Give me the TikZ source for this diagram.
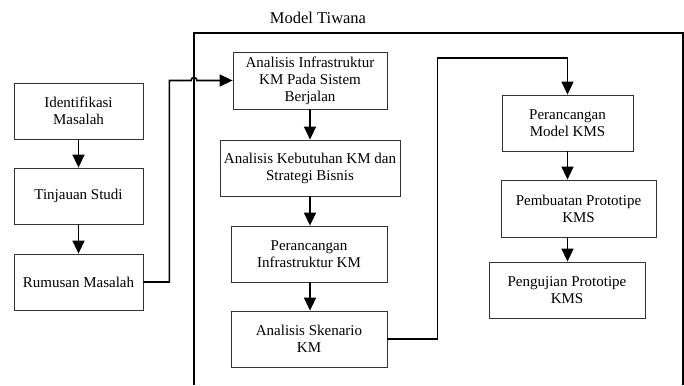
\documentclass[tikz,border=0pt]{standalone}
\usepackage{fontspec}
\setmainfont{Liberation Serif}
\usetikzlibrary{arrows.meta}
\tikzset{
  box/.style={draw=black!80, line width=0.8pt, align=center, inner sep=1pt,
    font=\fontsize{15}{17}\selectfont},
  conn/.style={line width=1.6pt, -{Triangle[width=12pt,length=13pt]}},
}
\begin{document}
\begin{tikzpicture}[x=1pt,y=-1pt]
\useasboundingbox (0,0) rectangle (684,385);
% bingkai model
\node (title) at (318,18) {\fontsize{16.5}{18}\selectfont Model Tiwana};
\draw[line width=1.3pt] (194,385) -- (194,33) -- (683,33) -- (683,385);
% kolom kiri
\node[box, minimum width=129pt, minimum height=56pt] (idm) at (78.5,111) {Identifikasi\\Masalah};
\node[box, minimum width=129pt, minimum height=56pt] (tjs) at (78.5,196) {Tinjauan Studi};
\node[box, minimum width=129pt, minimum height=56pt] (rum) at (78.5,282) {Rumusan Masalah};
% kolom tengah
\node[box, minimum width=154pt, minimum height=57pt] (ais) at (310,80.5) {Analisis Infrastruktur\\KM Pada Sistem\\Berjalan};
\node[box, minimum width=180pt, minimum height=56pt] (akb) at (310,168) {Analisis Kebutuhan KM dan\\Strategi Bisnis};
\node[box, minimum width=156pt, minimum height=56pt] (pik) at (309,254) {Perancangan\\Infrastruktur KM};
\node[box, minimum width=156pt, minimum height=56pt] (ask) at (309,339) {Analisis Skenario\\KM};
% kolom kanan
\node[box, minimum width=131pt, minimum height=56pt] (pmk) at (567.5,123) {Perancangan\\Model KMS};
\node[box, minimum width=155pt, minimum height=57pt] (ppk) at (578.5,208.5) {Pembuatan Prototipe\\KMS};
\node[box, minimum width=156pt, minimum height=56pt] (upk) at (567,290) {Pengujian Prototipe\\KMS};
\coordinate (hop) at (194,80.5);
\coordinate (top) at (567.5,58);
\path[draw,conn] (idm) -- (tjs);
\path[draw,conn] (tjs) -- (rum);
\path[draw,conn] (rum.east) -- ++(26,0) |- ([xshift=-3pt]hop) arc (180:0:3pt) -- (ais.west);
\path[draw,conn] (ais.south) -- (ais.south |- akb.north);
\path[draw,conn] (ais.south |- akb.south) -- (ais.south |- pik.north);
\path[draw,conn] (ais.south |- pik.south) -- (ais.south |- ask.north);
\path[draw,conn] (ask.east) -- ++(50,0) |- (top) -- (pmk.north);
\path[draw,conn] (pmk.south) -- (pmk.south |- ppk.north);
\path[draw,conn] (pmk.south |- ppk.south) -- (pmk.south |- upk.north);
\end{tikzpicture}
\end{document}
